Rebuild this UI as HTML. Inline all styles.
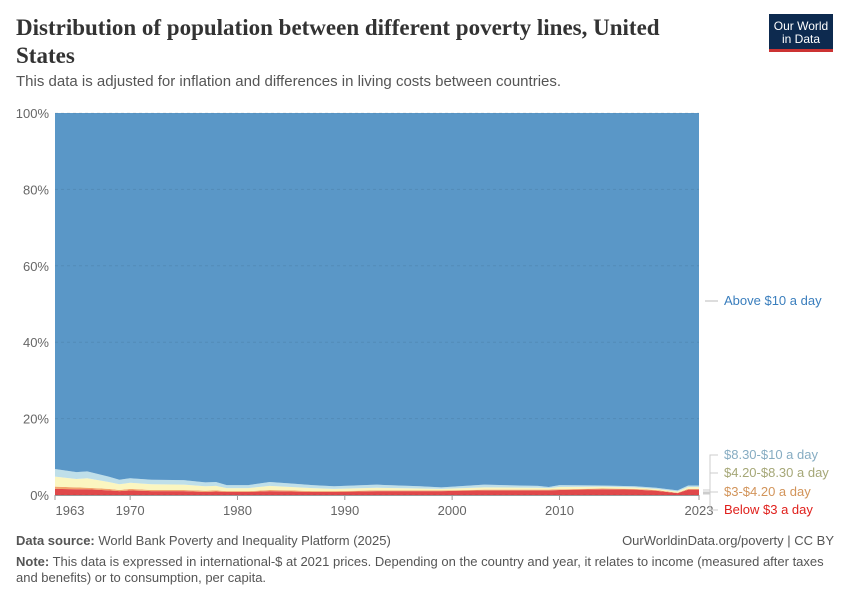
<!DOCTYPE html>
<html><head><meta charset="utf-8"><style>
body{margin:0;width:850px;height:600px;background:#fff;font-family:"Liberation Sans",sans-serif;overflow:hidden}
.t{position:absolute}
</style></head><body>
<div class="t" style="left:16px;top:14px;width:690px;font-family:'Liberation Serif',serif;font-size:23px;font-weight:bold;color:#333;line-height:28px">Distribution of population between different poverty lines, United States</div>
<div class="t" style="left:16px;top:73px;font-size:15px;color:#555">This data is adjusted for inflation and differences in living costs between countries.</div>
<div class="t" style="left:769px;top:14px;width:64px;height:38px;background:#0d2a4f;border-bottom:3px solid #c33;color:#fff;font-size:12px;text-align:center;line-height:13px;padding-top:6px;box-sizing:border-box">Our World<br>in Data</div>
<svg class="t" style="left:0;top:0" width="850" height="600" id="svg"></svg>
<div class="t" style="left:16px;top:533px;font-size:13px;color:#555"><b>Data source:</b> World Bank Poverty and Inequality Platform (2025)</div>
<div class="t" style="right:16px;top:533px;font-size:13px;color:#555">OurWorldinData.org/poverty | CC BY</div>
<div class="t" style="left:16px;top:554px;width:810px;font-size:13px;color:#555;line-height:16px"><b>Note:</b> This data is expressed in international-$ at 2021 prices. Depending on the country and year, it relates to income (measured after taxes and benefits) or to consumption, per capita.</div>
<script>
const years=[1963,1965,1966,1968,1969,1970,1972,1975,1977,1978,1979,1981,1983,1985,1987,1989,1993,1997,1999,2003,2008,2009,2010,2014,2017,2019,2021,2022,2023];
const below3=[1.6,1.5,1.5,1.2,1.0,1.2,1.0,1.0,0.8,0.9,0.8,0.8,1.0,0.9,0.8,0.8,1.0,1.0,1.0,1.2,1.2,1.2,1.3,1.5,1.4,1.1,0.5,1.4,1.4];
const b3to42=[0.6,0.5,0.4,0.4,0.3,0.4,0.3,0.3,0.3,0.3,0.2,0.2,0.3,0.3,0.2,0.2,0.2,0.2,0.2,0.2,0.2,0.2,0.2,0.2,0.2,0.2,0.1,0.2,0.2];
const b42to83=[2.6,2.2,2.5,1.8,1.5,1.6,1.5,1.4,1.2,1.2,0.8,0.8,1.1,0.9,0.8,0.6,0.7,0.5,0.4,0.6,0.5,0.4,0.6,0.5,0.4,0.3,0.3,0.5,0.5];
const b83to10=[2.0,1.8,1.8,1.4,1.2,1.2,1.2,1.2,1.0,1.0,0.8,0.8,1.0,0.9,0.8,0.7,0.8,0.6,0.4,0.7,0.5,0.3,0.5,0.3,0.3,0.3,0.3,0.4,0.4];
const above10=years.map((_,i)=>100-below3[i]-b3to42[i]-b42to83[i]-b83to10[i]);
const yTicks=[0,20,40,60,80,100];
const xTicks=[1963,1970,1980,1990,2000,2010,2023];
const X=y=>55+(y-1963)*(699-55)/60, Y=p=>495-p*3.82;
const svg=document.getElementById('svg');const NS='http://www.w3.org/2000/svg';
function mk(t,a,txt){const e=document.createElementNS(NS,t);for(const k in a)e.setAttribute(k,a[k]);if(txt!=null)e.textContent=txt;svg.appendChild(e);return e;}
const series=[[below3,'#e0484a','below-3'],[b3to42,'#f2a46c','3-to-4-20'],[b42to83,'#fbf6c0','4-20-to-8-30'],[b83to10,'#bfdfe9','8-30-to-10'],[above10,'#5a97c7','above-10']];
let base=years.map(()=>0);
series.forEach(([vals,col,nm])=>{
 const top=base.map((b,i)=>b+vals[i]);
 let d='M'+years.map((yr,i)=>X(yr)+','+Y(top[i])).join('L');
 for(let i=years.length-1;i>=0;i--)d+='L'+X(years[i])+','+Y(base[i]);
 const p=mk('path',{d:d+'Z',fill:col});
 
 
 base=top;
});
yTicks.forEach(v=>{
 const g=mk('line',{x1:55,x2:699,y1:Y(v),y2:Y(v),stroke:'rgba(0,0,0,0.08)','stroke-dasharray':'3,3'});
 
 
 const t=mk('text',{x:49,y:Y(v)+5,'text-anchor':'end','font-size':13,fill:'#666','font-family':'Liberation Sans'},v+'%');
 
 
});
mk('line',{x1:55,x2:699,y1:495.5,y2:495.5,stroke:'#999'});
xTicks.forEach(v=>{
 mk('line',{x1:X(v),x2:X(v),y1:495,y2:500,stroke:'#999'});
 const t=mk('text',{x:X(v)+(v===1963?15:0),y:515,'text-anchor':'middle','font-size':13,fill:'#666','font-family':'Liberation Sans'},v);
 
 
});
const labels=[['Above $10 a day','#3a7ebd',305,301],['$8.30-$10 a day','#86acc2',459,490],['$4.20-$8.30 a day','#a5a777',477,492],['$3-$4.20 a day','#d2945a',496,493],['Below $3 a day','#e0201c',514,494]];
labels.forEach(([s,c,ty,ly],i)=>{
 if(i===0)mk('line',{x1:705,x2:718,y1:ly,y2:ly,stroke:'#bbb'});
 else mk('path',{d:`M703,${ly} L710,${ly} L710,${ty-4} L718,${ty-4}`,fill:'none',stroke:'#ccc'});
 const t=mk('text',{x:724,y:ty,'font-size':13,fill:c,'font-family':'Liberation Sans'},s);
 
 
});
</script>
</body></html>
